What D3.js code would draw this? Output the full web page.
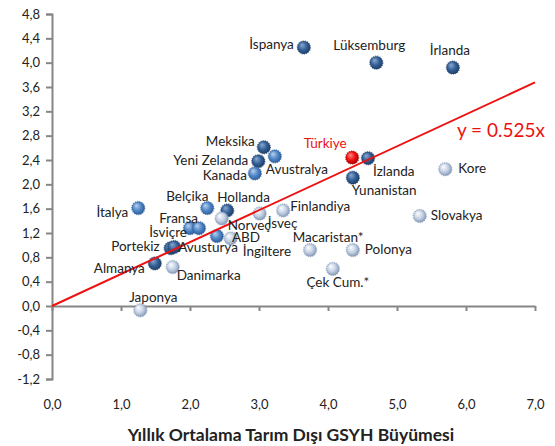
<!doctype html>
<html lang="tr">
<head>
<meta charset="utf-8">
<script src="https://d3js.org/d3.v7.min.js"></script>
<title>Tarım dışı büyüme</title>
<style>
  body { margin: 0; background: #fff; }
  text { font-family: Lato, "Open Sans", sans-serif; }
</style>
</head>
<body>
<svg id="chart"></svg>
<script>
// data
const countries = ["İspanya", "Lüksemburg", "İrlanda", "Meksika", "Avustralya", "Yeni Zelanda", "Kanada",
  "Türkiye", "İzlanda", "Yunanistan", "Kore", "Slovakya", "İtalya", "Belçika", "Hollanda", "Norveç",
  "İsveç", "Finlandiya", "İsviçre", "Fransa", "ABD", "İngiltere", "Macaristan*", "Polonya", "Çek Cum.*",
  "Portekiz", "Avusturya", "Almanya", "Danimarka", "Japonya"];
const growth = [3.65, 4.70, 5.81, 3.07, 3.23, 2.99, 2.94,
  4.35, 4.58, 4.36, 5.70, 5.33, 1.25, 2.25, 2.54, 2.46,
  3.01, 3.35, 2.00, 2.13, 2.39, 2.59, 3.74, 4.36, 4.07,
  1.72, 1.77, 1.49, 1.75, 1.28];
const employment = [4.25, 4.00, 3.92, 2.61, 2.46, 2.38, 2.18,
  2.44, 2.43, 2.11, 2.25, 1.48, 1.61, 1.61, 1.57, 1.44,
  1.52, 1.57, 1.28, 1.28, 1.15, 1.11, 0.92, 0.92, 0.61,
  0.95, 0.97, 0.70, 0.64, -0.07];
const shade = ["dark", "dark", "dark", "dark", "mid", "dark", "mid",
  "red", "dark", "dark", "light", "light", "mid", "mid", "dark", "light",
  "light", "light", "mid", "mid", "mid", "light", "light", "light", "light",
  "dark", "dark", "dark", "light", "light"];
const slope = 0.525;
const xTicks = [0, 1, 2, 3, 4, 5, 6, 7];
const yTicks = [-1.2, -0.8, -0.4, 0, 0.4, 0.8, 1.2, 1.6, 2.0, 2.4, 2.8, 3.2, 3.6, 4.0, 4.4, 4.8];
const xTitle = "Yıllık Ortalama Tarım Dışı GSYH Büyümesi";

// label placement: [dx, dy, anchor]
const labelPos = {
  "İspanya": [-10, -2, "end"], "Lüksemburg": [-7, -16, "middle"], "İrlanda": [-3, -16, "middle"],
  "Meksika": [-9, -5, "end"], "Yeni Zelanda": [-10, 0, "end"], "Kanada": [-8, 3, "end"],
  "Avustralya": [-9, 14, "start"], "Türkiye": [-27, -13, "middle"], "İzlanda": [5, 14, "start"],
  "Yunanistan": [-1, 14, "start"], "Kore": [13, 0, "start"], "Slovakya": [11, 1, "start"],
  "İtalya": [-10, 6, "end"], "Belçika": [-20, -10, "middle"], "Hollanda": [-10, -12, "start"],
  "Finlandiya": [7, -3, "start"], "Fransa": [-1, -9, "end"], "Norveç": [6, 8, "start"],
  "İsveç": [8, 11, "start"], "İsviçre": [-3, 5, "end"], "ABD": [15, 3, "start"],
  "Avusturya": [4, 2, "start"], "Portekiz": [-11, -1, "end"], "İngiltere": [12, 14, "start"],
  "Macaristan*": [18, -11, "middle"], "Polonya": [12, 1, "start"], "Almanya": [-10, 6, "end"],
  "Danimarka": [4, 10, "start"], "Çek Cum.*": [5, 15, "middle"], "Japonya": [13, -12, "middle"]
};

const W = 555, H = 446;
const svg = d3.select("#chart").attr("width", W).attr("height", H);

const x = d3.scaleLinear().domain([0, 7]).range([52, 535]);
const y = d3.scaleLinear().domain([-1.2, 4.8]).range([379, 14]);

const loc = d3.formatLocale({decimal: ",", thousands: ".", grouping: [3], currency: ["", "TL"], minus: "-"});
const fmt = loc.format(".1f");

// gradients for the spheres
const defs = svg.append("defs");
const grads = {
  dark: ["#8aaad2", "#335f96", "#1b3a63"],
  mid: ["#b9d1ee", "#4f86c6", "#2a5a94"],
  light: ["#ffffff", "#c3d0e3", "#7e93b3"],
  red: ["#ff8a8a", "#f01010", "#a00000"]
};
Object.entries(grads).forEach(([k, c]) => {
  const g = defs.append("radialGradient").attr("id", "g-" + k)
    .attr("cx", "45%").attr("cy", "45%").attr("r", "60%").attr("fx", "35%").attr("fy", "30%");
  g.append("stop").attr("offset", "0%").attr("stop-color", c[0]);
  g.append("stop").attr("offset", "55%").attr("stop-color", c[1]);
  g.append("stop").attr("offset", "100%").attr("stop-color", c[2]);
});

// y axis
const yAxis = svg.append("g").attr("transform", `translate(${x(0)},0)`)
  .call(d3.axisLeft(y).tickValues(yTicks).tickFormat(fmt).tickSize(6).tickPadding(6));
yAxis.select(".domain").attr("stroke", "#868686").attr("stroke-width", 2);
yAxis.selectAll(".tick line").attr("stroke", "#868686").attr("stroke-width", 2);
yAxis.selectAll("text").attr("font-size", 13).attr("fill", "#222")
  .style("font-family", "Lato, sans-serif");

// x axis line at zero
const xAxis = svg.append("g").attr("transform", `translate(0,${y(0)})`)
  .call(d3.axisBottom(x).tickValues(xTicks).tickFormat("").tickSize(5).tickSizeOuter(0));
xAxis.select(".domain").attr("stroke", "#868686").attr("stroke-width", 2);
xAxis.selectAll(".tick line").attr("stroke", "#868686").attr("stroke-width", 2);

// x tick labels below the plot
const xLab = svg.append("g").attr("transform", `translate(0,397)`)
  .call(d3.axisBottom(x).tickValues(xTicks).tickFormat(fmt).tickSize(0));
xLab.select(".domain").remove();
xLab.selectAll("text").attr("font-size", 13).attr("fill", "#222")
  .style("font-family", "Lato, sans-serif");

svg.append("text")
  .attr("x", 291).attr("y", 441)
  .attr("text-anchor", "middle")
  .attr("font-size", 17.5).attr("font-weight", "bold").attr("fill", "#222")
  .text(xTitle);

// points
const pts = countries.map((c, i) => ({name: c, gx: growth[i], gy: employment[i], s: shade[i]}));

const dots = svg.append("g");
dots.selectAll("circle").data(pts).join("circle")
  .attr("cx", d => x(d.gx)).attr("cy", d => y(d.gy)).attr("r", 6.5)
  .attr("fill", d => `url(#g-${d.s})`)
  .attr("stroke", d => grads[d.s][2]).attr("stroke-opacity", 0.6)
  .attr("stroke-width", 1.4).attr("stroke-dasharray", "1.2 1");

// trend line
svg.append("path")
  .datum([0, 7])
  .attr("d", d3.line().x(d => x(d)).y(d => y(slope * d)))
  .attr("stroke", "#ee1111").attr("stroke-width", 2).attr("fill", "none");

svg.append("text")
  .attr("x", 545).attr("y", 137).attr("text-anchor", "end")
  .attr("font-size", 19).attr("fill", "#ee1111")
  .text("y = " + slope + "x");

// labels
svg.append("g").selectAll("text").data(pts).join("text")
  .attr("x", d => x(d.gx) + labelPos[d.name][0])
  .attr("y", d => y(d.gy) + labelPos[d.name][1])
  .attr("text-anchor", d => labelPos[d.name][2])
  .attr("dominant-baseline", "middle")
  .attr("font-size", 13.5)
  .attr("fill", d => d.s === "red" ? "#ee1111" : "#222")
  .text(d => d.name);
</script>
</body>
</html>
